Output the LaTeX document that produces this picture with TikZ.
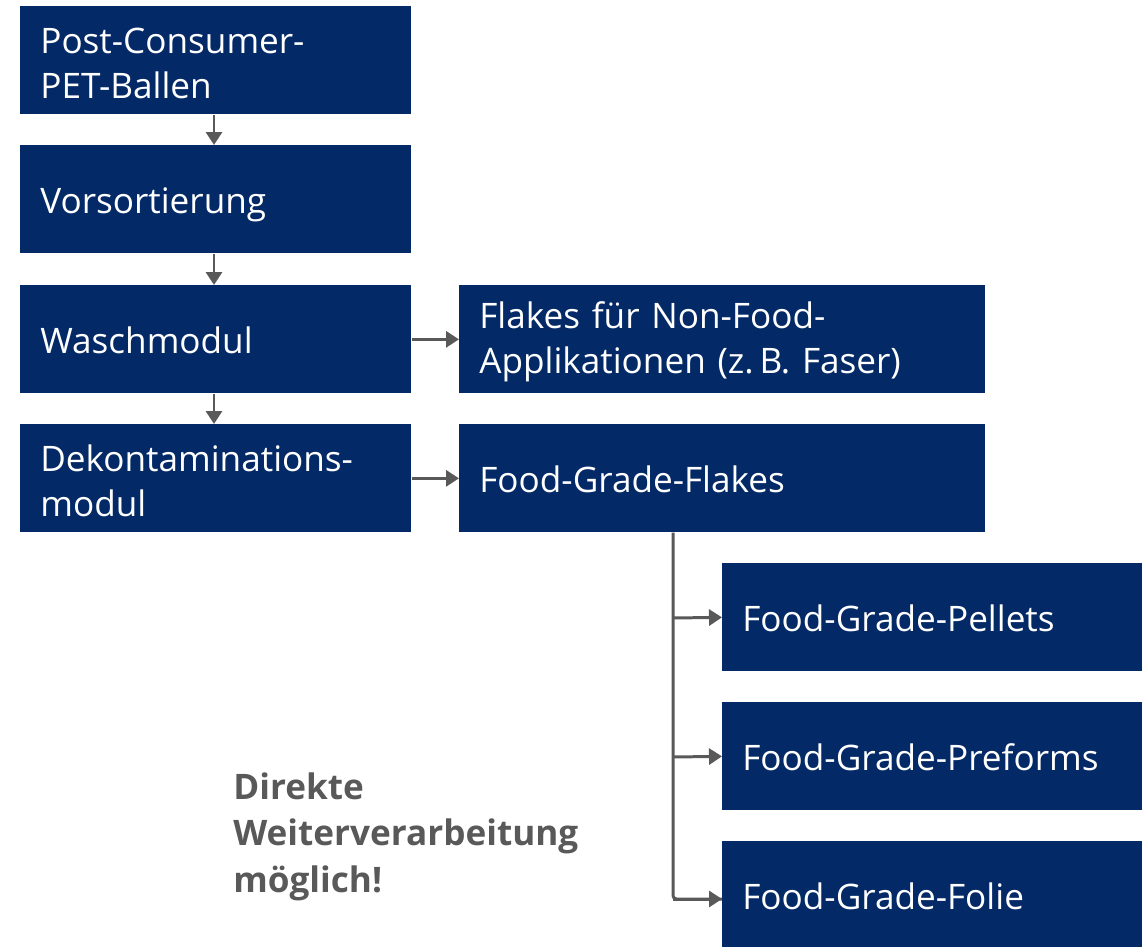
\documentclass[tikz,border=0pt]{standalone}
\usepackage{fontspec}
\setmainfont{Open Sans}
\usepackage{xcolor}
\definecolor{petblue}{RGB}{3,41,102}
\definecolor{arrowgray}{RGB}{89,89,89}
\tikzset{
  stage/.style={fill=petblue, text=white, anchor=north west, align=left,
    inner xsep=0.4cm, inner ysep=0pt, minimum height=2.16cm,
    execute at begin node=\strut,
    font=\fontsize{20}{25.6}\selectfont},
  single/.style={text height=23.5pt, text depth=7.7pt},
  leftstage/.style={stage, text width=7.02cm},
  midstage/.style={stage, text width=9.72cm},
  lowstage/.style={stage, single, text width=7.6cm},
  flow/.style={draw=arrowgray, line width=1.7pt, -{Triangle[length=0.26cm,width=0.32cm]}},
}
\usetikzlibrary{arrows.meta}
\begin{document}
\begin{tikzpicture}[x=0.02cm,y=-0.02cm]

% page frame (1148 x 946 px)
\useasboundingbox (0,0) rectangle (1148,946);
\clip (0,0) rectangle (1148,946);

% main process chain
\node[leftstage] (ballen) at (20,6) {Post-Consumer-\\PET-Ballen};
\node[leftstage, single] (vorsort) at (20,145) {Vorsortierung};
\node[leftstage, single] (wasch) at (20,285) {Waschmodul};
\node[leftstage] (dekon) at (20,424) {Dekontaminations-\\modul};

% side outputs
\node[midstage] (nonfood) at (459,285) {Flakes für Non-Food-\\Applikationen (z.\,B. Faser)};
\node[midstage, single] (flakes) at (459,424) {Food-Grade-Flakes};

% food grade products
\node[lowstage] (pellets) at (722,563) {Food-Grade-Pellets};
\node[lowstage] (preforms) at (722,702) {Food-Grade-Preforms};
\node[lowstage] (folie) at (722,841) {Food-Grade-Folie};

% note
\node[anchor=north west, align=left, text=arrowgray, inner sep=0pt,
  font=\fontsize{20}{26.7}\selectfont\bfseries] (note) at (233,772)
  {Direkte\\Weiterverarbeitung\\möglich!};

% arrows in the chain
\draw[flow] (ballen.south -| 214,0) -- (vorsort.north -| 214,0);
\draw[flow] (vorsort.south -| 214,0) -- (wasch.north -| 214,0);
\draw[flow] (wasch.south -| 214,0) -- (dekon.north -| 214,0);
\draw[flow] (wasch.east) -- (nonfood.west);
\draw[flow] (dekon.east) -- (flakes.west);

% branch to the products
\coordinate (split) at (flakes.south -| 673,0);
\draw[draw=arrowgray, line width=1.7pt, rounded corners=2pt] (split) -- (673,899) -- (folie.west |- 673,899);
\draw[flow] (673,899) -- (folie.west |- 673,899);
\draw[flow] (673,618) -- (pellets.west);
\draw[flow] (673,757) -- (preforms.west);

\end{tikzpicture}
\end{document}
